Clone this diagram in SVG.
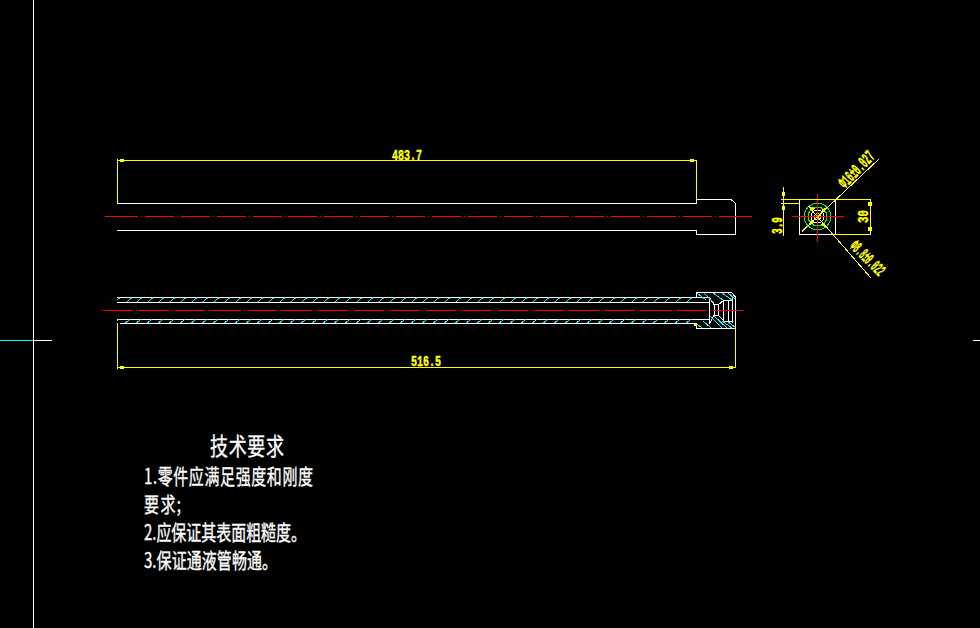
<svg xmlns="http://www.w3.org/2000/svg" width="980" height="628" viewBox="0 0 980 628" shape-rendering="crispEdges">
<style>
.w{stroke:#fff;stroke-width:1;fill:none}
.y{stroke:#ff0;stroke-width:1;fill:none}
.c{stroke:#0ff;stroke-width:1;fill:none}
.g{stroke:#0f0;stroke-width:1;fill:none}
.r{stroke:#f00;stroke-width:1;fill:none}
.d1{stroke-dasharray:29 3 1 2.87}
.d2{stroke-dasharray:30 3 1 1.87}
.t{fill:#ff0;stroke:#ff0;stroke-width:.45;font-family:"Liberation Mono","DejaVu Sans Mono",monospace;font-weight:bold;font-size:14px}
.b{font-size:17px}
.n{fill:#fff;stroke:#fff;stroke-width:.25;font-family:"Noto Sans CJK SC","Liberation Serif",serif;font-size:15px}
.h{font-size:18px}
.f{fill:#ff0}
</style>
<rect width="980" height="628" fill="#000"/>
<g id="crosshair">
<path class="c" d="M0 340.5H33"/>
<path class="w" d="M33.5 0V628M34 340.5H52M973 340.5H980"/>
</g>
<g id="front-view">
<path class="w" d="M117 203.5H696.5V199.5H731"/>
<path class="w" d="M731 199.5L735.5 203.5V234.5H696.5V230.5H117"/>
<path class="r" d="M105 216.5H138M141 216.5H142"/>
<path class="r d1" d="M145 216.5H719"/>
<path class="r" d="M719 216.5H752"/>
</g>
<g id="section-view">
<path class="w" d="M117 297.5H696.5V292.5H731.5L735.5 297V323.5V328.5H696.5V323.5H120M117 302.5H696.5M117 319.5H696.5"/>
<path class="w" d="M696.5 297.5H709.5V323.5M696.5 302.5H709M696.5 319.5H709M709.5 297.5L714 304.5V315.5L709.5 323.5M714 304.5H718.5V315.5H714M718.5 304.5L723.5 300.5V320.5L718.5 315.5M723.5 300.5H732.5V321.5H723.5M728.5 300.5V321M732.5 297V323"/>
<path class="r" d="M103 310.5H133M136 310.5H137"/>
<path class="r d2" d="M139 310.5H714"/>
<path class="r" d="M714 310.5H743"/>
<path class="c" d="M117 300L120 297.5M127 302L132 297.5M137 302L142 297.5M148 302L153 297.5M159 302L164 297.5M170 302L175 297.5M181 302L186 297.5M192 302L197 297.5M203 302L208 297.5M214 302L219 297.5M225 302L230 297.5M236 302L241 297.5M247 302L252 297.5M258 302L263 297.5M269 302L274 297.5M280 302L285 297.5M291 302L296 297.5M302 302L307 297.5M313 302L318 297.5M324 302L329 297.5M335 302L340 297.5M346 302L351 297.5M357 302L362 297.5M368 302L373 297.5M379 302L384 297.5M390 302L395 297.5M401 302L406 297.5M412 302L417 297.5M423 302L428 297.5M434 302L439 297.5M445 302L450 297.5M456 302L461 297.5M467 302L472 297.5M478 302L483 297.5M489 302L494 297.5M500 302L505 297.5M511 302L516 297.5M522 302L527 297.5M533 302L538 297.5M544 302L549 297.5M555 302L560 297.5M566 302L571 297.5M577 302L582 297.5M588 302L593 297.5M599 302L604 297.5M610 302L615 297.5M621 302L626 297.5M632 302L637 297.5M643 302L648 297.5M654 302L659 297.5M665 302L670 297.5M676 302L681 297.5M687 302L692 297.5"/>
<path class="c" d="M117 321L119 319.5M125 323L130 319.5M136 323L141 319.5M147 323L152 319.5M158 323L163 319.5M169 323L174 319.5M180 323L185 319.5M191 323L196 319.5M202 323L207 319.5M213 323L218 319.5M224 323L229 319.5M235 323L240 319.5M246 323L251 319.5M257 323L262 319.5M268 323L273 319.5M279 323L284 319.5M290 323L295 319.5M301 323L306 319.5M312 323L317 319.5M323 323L328 319.5M334 323L339 319.5M345 323L350 319.5M356 323L361 319.5M367 323L372 319.5M378 323L383 319.5M389 323L394 319.5M400 323L405 319.5M411 323L416 319.5M422 323L427 319.5M433 323L438 319.5M444 323L449 319.5M455 323L460 319.5M466 323L471 319.5M477 323L482 319.5M488 323L493 319.5M499 323L504 319.5M510 323L515 319.5M521 323L526 319.5M532 323L537 319.5M543 323L548 319.5M554 323L559 319.5M565 323L570 319.5M576 323L581 319.5M587 323L592 319.5M598 323L603 319.5M609 323L614 319.5M620 323L625 319.5M631 323L636 319.5M642 323L647 319.5M653 323L658 319.5M664 323L669 319.5M675 323L680 319.5M686 323L691 319.5"/>
<path class="c" d="M697 293L706 300M704 293L714 303M713 293L723 300M722 293L732 300M728 293L735 299M697 324L702 328M703 321L711 328M710 316L722 328M714 316L727 328M722 321L732 328M728 322L735 327"/>
</g>
<g id="end-view">
<rect class="w" x="799.5" y="199.5" width="36" height="35"/>
<circle class="g" cx="817.5" cy="216.5" r="13.3"/>
<circle class="g" cx="817.5" cy="216.5" r="9.5"/>
<circle class="w" cx="817.5" cy="216.5" r="6.5"/>
<circle class="y" cx="817.5" cy="216.5" r="3"/>
<path class="r" d="M792 216.5H844M817.5 194V242"/>
</g>
<g id="connectors">
<path class="y" d="M117.5 159V203M118 160.5H696.5V203"/>
<rect class="f" x="120" y="159" width="4" height="3"/><rect class="f" x="690" y="159" width="4" height="3"/>
<path class="y" d="M117.5 323V369M118 367.5H735.5M735.5 328V368"/>
<rect class="f" x="120" y="366" width="4" height="3"/><rect class="f" x="729" y="366" width="4" height="3"/><rect class="f" x="694" y="323" width="3" height="3"/>
<path class="y" d="M781 199.5H870.5M781 203.5H799M783.5 187V236M836 234.5H870.5M870.5 199.5V234.5"/>
<rect class="f" x="782" y="192" width="3" height="4"/><rect class="f" x="782" y="206" width="3" height="4"/>
<rect class="f" x="868" y="202" width="4" height="4"/><rect class="f" x="868" y="227" width="4" height="4"/>
<path class="y" d="M801.7 231.7L879 159M808 206L871 278"/>
<path class="f" d="M808 226L811 220L814 223ZM827 207L821 210L824 213ZM812 211L808 206L815 208ZM823 222L828 228L821 225Z"/>
</g>
<g id="labels">
<text class="t" x="392" y="160" textLength="30" lengthAdjust="spacingAndGlyphs">483.7</text>
<text class="t" x="411" y="366" textLength="30" lengthAdjust="spacingAndGlyphs">516.5</text>
<text class="t" transform="translate(782 234) rotate(-90)" textLength="17" lengthAdjust="spacingAndGlyphs">3.9</text>
<text class="t" transform="translate(868 223) rotate(-90)" textLength="13" lengthAdjust="spacingAndGlyphs">30</text>
<text class="t b" transform="translate(845 189) rotate(-46)" textLength="44" lengthAdjust="spacingAndGlyphs">Φ16±0.027</text>
<text class="t b" transform="translate(849 247) rotate(45)" textLength="42" lengthAdjust="spacingAndGlyphs">Φ8.8±0.022</text>
<text class="n h" transform="translate(210 455) scale(1 1.3)" textLength="74">技术要求</text>
<text class="n" transform="translate(144 484) scale(1 1.4)" textLength="169">1.零件应满足强度和刚度</text>
<text class="n" transform="translate(144 512) scale(1 1.4)" textLength="37">要求;</text>
<text class="n" transform="translate(144 540) scale(1 1.4)" textLength="162">2.应保证其表面粗糙度。</text>
<text class="n" transform="translate(144 568) scale(1 1.4)" textLength="133">3.保证通液管畅通。</text>
</g>
</svg>
